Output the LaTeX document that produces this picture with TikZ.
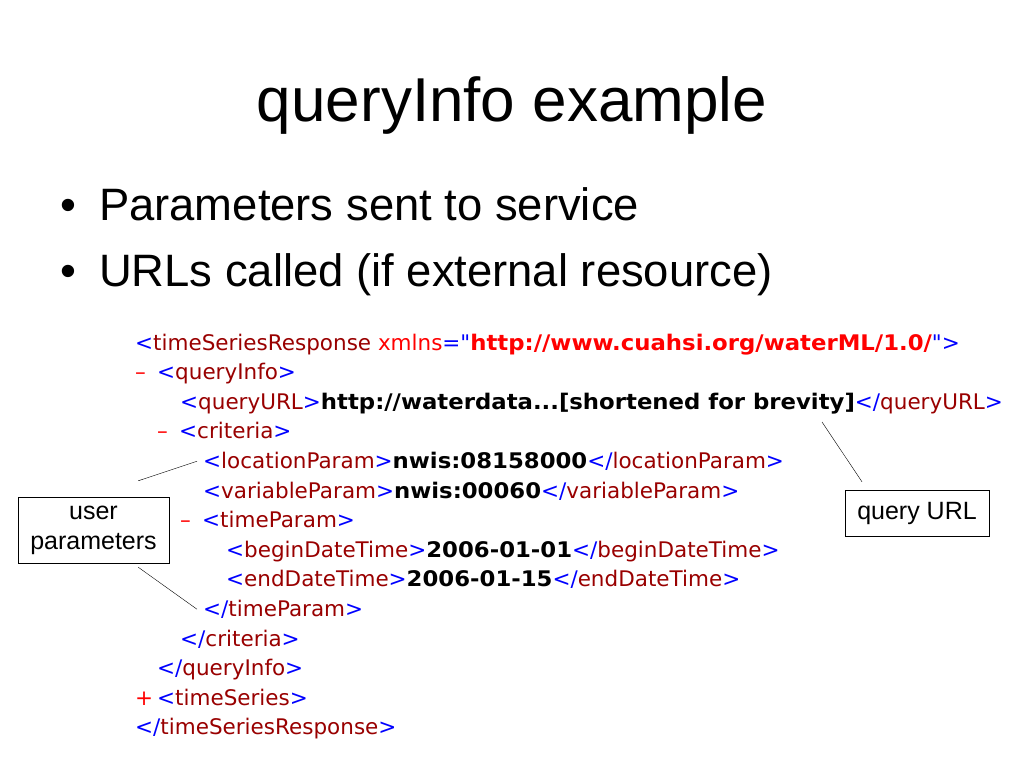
\documentclass[tikz,border=0pt]{standalone}
\usepackage{fontspec}
\setmainfont{Liberation Sans}
\newfontfamily\xmlfont{DejaVu Sans}[BoldFeatures={FakeStretch=1.06}]
\usetikzlibrary{positioning}
\definecolor{markblue}{RGB}{0,0,255}
\definecolor{tagred}{RGB}{153,0,0}
\definecolor{nsred}{RGB}{255,0,0}
\newcommand{\xo}{\textcolor{markblue}{<}}
\newcommand{\xc}{\textcolor{markblue}{>}}
\newcommand{\xe}{\textcolor{markblue}{</}}
\newcommand{\xt}[1]{\textcolor{tagred}{#1}}
\newcommand{\xv}[1]{\textbf{#1}}
\newcommand{\xb}[1]{\makebox[22pt][l]{\textcolor{nsred}{#1}}}
\tikzset{
  xmlline/.style={anchor=base west,inner sep=0pt,font=\xmlfont\fontsize{21.5}{26}\selectfont},
  bullet/.style={anchor=base west,inner sep=0pt,font=\fontsize{45.4}{52}\selectfont},
  callout/.style={draw,thin,align=center,font=\fontsize{25}{30}\selectfont},
  pointer/.style={thin}
}
\begin{document}
\begin{tikzpicture}[x=1pt,y=-1pt]
\useasboundingbox[fill=white] (0,0) rectangle (1024,768);
\node[font=\fontsize{62}{70}\selectfont,anchor=base] (title) at (512,121) {queryInfo example};
\node[bullet] (bul1) at (60,220) {•\hspace{23pt}Parameters sent to service};
\node[bullet] (bul2) at (60,286) {•\hspace{23pt}URLs called (if external resource)};
% xml listing
\node[xmlline] (rootopen) at (135,350) {\xo\xt{timeSeriesResponse} \textcolor{nsred}{xmlns}\textcolor{markblue}{="}\textbf{\textcolor{nsred}{http://www.cuahsi.org/waterML/1.0/}}\textcolor{markblue}{"}\xc};
\node[xmlline] (qinfo) at (135,379.6) {\xb{–}\xo\xt{queryInfo}\xc};
\node[xmlline] (qurl) at (180,409.2) {\xo\xt{queryURL}\xc\xv{http://waterdata...[shortened for brevity]}\xe\xt{queryURL}\xc};
\node[xmlline] (crit) at (157,438.8) {\xb{–}\xo\xt{criteria}\xc};
\node[xmlline] (locp) at (203,468.4) {\xo\xt{locationParam}\xc\xv{nwis:08158000}\xe\xt{locationParam}\xc};
\node[xmlline] (varp) at (203,498) {\xo\xt{variableParam}\xc\xv{nwis:00060}\xe\xt{variableParam}\xc};
\node[xmlline] (timep) at (180,527.6) {\xb{–}\xo\xt{timeParam}\xc};
\node[xmlline] (begdt) at (226,557.2) {\xo\xt{beginDateTime}\xc\xv{2006-01-01}\xe\xt{beginDateTime}\xc};
\node[xmlline] (enddt) at (226,586.8) {\xo\xt{endDateTime}\xc\xv{2006-01-15}\xe\xt{endDateTime}\xc};
\node[xmlline] (timepend) at (203,616.4) {\xe\xt{timeParam}\xc};
\node[xmlline] (critend) at (180,646) {\xe\xt{criteria}\xc};
\node[xmlline] (qinfoend) at (157,675.6) {\xe\xt{queryInfo}\xc};
\node[xmlline] (tseries) at (135,705.2) {\xb{+}\xo\xt{timeSeries}\xc};
\node[xmlline] (rootend) at (135,734.8) {\xe\xt{timeSeriesResponse}\xc};
% callouts
\node[callout,minimum width=151pt,minimum height=66pt] (upar) at (93.5,530) {user\\parameters};
\node[callout,minimum width=144pt,minimum height=46pt] (urlbox) at (917,513) {query URL};
\coordinate (urltip) at (822,422);
\draw[pointer] ([shift={(-31,-16)}]upar.north east) -- ([shift={(-6,0)}]locp.west);
\draw[pointer] ([shift={(-31,4)}]upar.south east) -- ([shift={(-6,0)}]timepend.west);
\draw[pointer] ([shift={(-55,-8)}]urlbox.north) -- (urltip);
\end{tikzpicture}
\end{document}
